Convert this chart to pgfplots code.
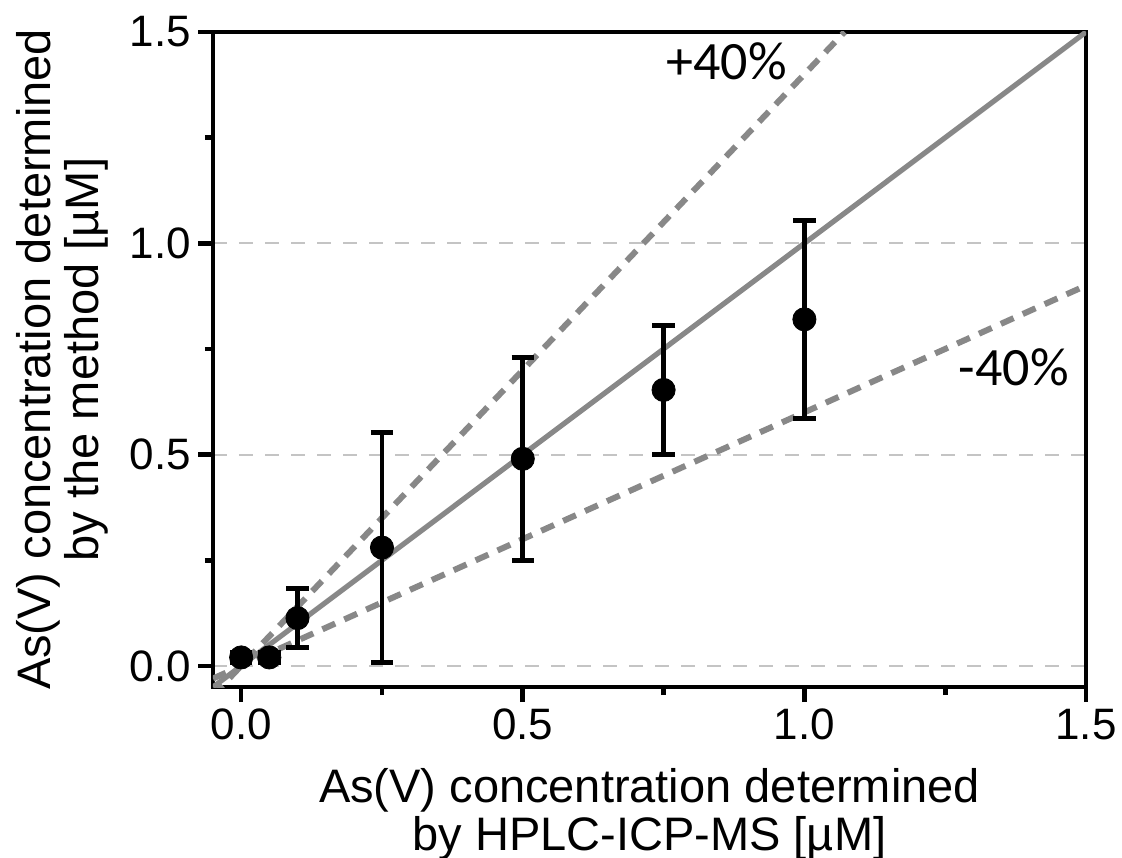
\documentclass[border=0pt]{standalone}
\usepackage{fontspec}
\setmainfont{Liberation Sans}
\newfontfamily\calfont{Carlito}
\usepackage{pgfplots}
\pgfplotsset{compat=1.18}
\usetikzlibrary{calc}
\definecolor{lgray}{HTML}{888888}
\definecolor{ggray}{HTML}{C4C4C4}
\begin{document}
\begin{tikzpicture}
\begin{axis}[
  name=ax, scale only axis, width=436.5pt, height=327.5pt,
  xmin=-0.05, xmax=1.5, ymin=-0.05, ymax=1.5,
  xtick={0,0.5,1,1.5}, ytick={0,0.5,1,1.5},
  minor xtick={0.25,0.75,1.25}, minor ytick={0.25,0.75,1.25},
  xtick pos=bottom, ytick pos=left,
  tick align=outside,
  major tick length=7.5pt, minor tick length=4pt,
  every tick/.style={black, line width=2.3pt},
  axis line style={line width=2.4pt},
  /pgf/number format/assume math mode=true,
  xticklabel style={/pgf/number format/fixed,/pgf/number format/fixed zerofill,/pgf/number format/precision=1},
  yticklabel style={/pgf/number format/fixed,/pgf/number format/fixed zerofill,/pgf/number format/precision=1},
  tick label style={font=\fontsize{22}{24}\selectfont},
  ymajorgrids,
  major grid style={ggray, line width=1pt, dash pattern=on 7pt off 6pt},
  xlabel={As(V) concentration determined\\by HPLC-ICP-MS [µM]},
  ylabel={As(V) concentration determined\\by the method [µM]},
  xlabel style={align=center, font=\fontsize{23.5}{24}\selectfont, yshift=-7pt},
  ylabel style={align=center, font=\fontsize{23.5}{24}\selectfont, yshift=4pt},
]
\addplot[lgray, line width=2.6pt] coordinates {(-0.05,-0.05) (1.5,1.5)};
\addplot[lgray, line width=3pt, dash pattern=on 7pt off 5pt] coordinates {(-0.05,-0.07) (1.0714,1.5)};
\addplot[lgray, line width=3pt, dash pattern=on 7pt off 5pt] coordinates {(-0.05,-0.03) (1.5,0.9)};
\addplot[only marks, mark=*, mark size=5.8pt, black,
  error bars/.cd, y dir=both, y explicit,
  error bar style={line width=2.4pt, black},
  error mark options={rotate=90, mark size=5.6pt, line width=2.4pt, black}]
  table[x=x, y=y, y error=e] {
x y e
0 0.02 0.012
0.05 0.02 0.012
0.1 0.113 0.07
0.25 0.28 0.272
0.5 0.49 0.24
0.75 0.653 0.152
1.0 0.82 0.234
};
\node[font=\calfont\fontsize{27}{30}\selectfont] at (axis cs:0.862,1.431) {+40\%};
\node[font=\calfont\fontsize{27}{30}\selectfont] at (axis cs:1.372,0.706) {-40\%};
\end{axis}
\pgfresetboundingbox
\path ($(ax.south west)+(-106.5pt,-85pt)$) rectangle ($(ax.north east)+(18pt,16pt)$);
\end{tikzpicture}
\end{document}
